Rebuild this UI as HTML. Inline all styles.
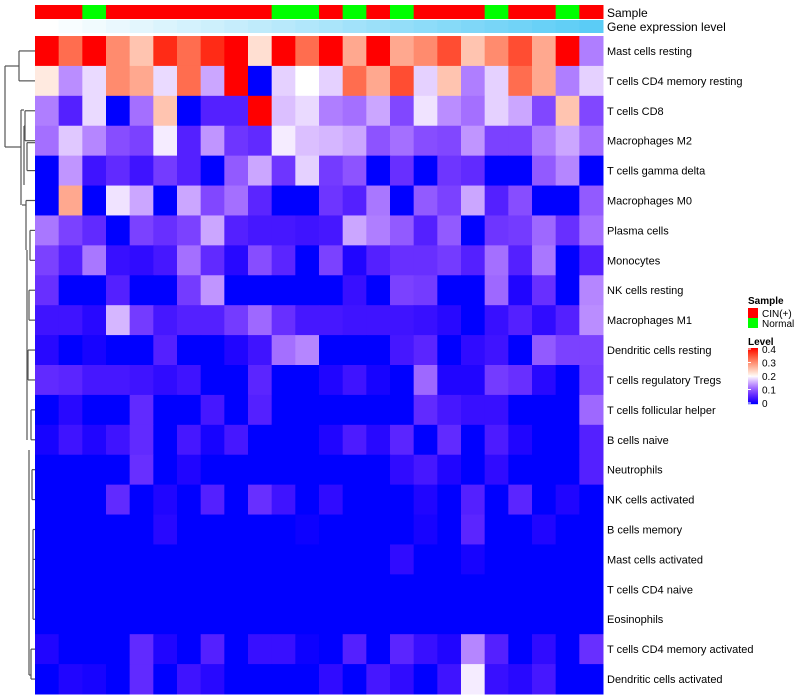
<!DOCTYPE html>
<html><head><meta charset="utf-8"><style>
body{margin:0;background:#fff;width:800px;height:700px;overflow:hidden;font-family:"Liberation Sans",sans-serif}
svg{display:block}
</style></head><body>
<svg id="chart" width="800" height="700"></svg>
<script>
const rowLabels=["Mast cells resting","T cells CD4 memory resting","T cells CD8","Macrophages M2","T cells gamma delta","Macrophages M0","Plasma cells","Monocytes","NK cells resting","Macrophages M1","Dendritic cells resting","T cells regulatory  Tregs","T cells follicular helper","B cells naive","Neutrophils","NK cells activated","B cells memory","Mast cells activated","T cells CD4 naive","Eosinophils","T cells CD4 memory activated","Dendritic cells activated"];
const sampleGroups=["CIN(+)","CIN(+)","Normal","CIN(+)","CIN(+)","CIN(+)","CIN(+)","CIN(+)","CIN(+)","CIN(+)","Normal","Normal","CIN(+)","Normal","CIN(+)","Normal","CIN(+)","CIN(+)","CIN(+)","Normal","CIN(+)","CIN(+)","Normal","CIN(+)"];
const geneLevel=[0,0.04,0.08,0.12,0.16,0.2,0.24,0.28,0.32,0.36,0.4,0.44,0.48,0.52,0.56,0.6,0.64,0.68,0.72,0.76,0.8,0.84,0.88,0.92];
// values in units of 0.05 (level = unit*0.05)
const r0=[8,6.5,8,6,5,7.5,6.5,7.5,8,4.5,8,6.5,8,5.5,8,5.5,6,7,5,6,7,5.5,8,2.5];
const r1=[4.3,2.7,3.6,6,5.5,3.6,6.5,3,8,0,3.5,4,3.5,6.5,5.5,7,3.5,5,2.5,3.5,6.5,5.5,2.5,3.5];
const r2=[2.5,1,3.6,0,2.3,5,0,1,1,8,3.3,3.6,2.5,2.3,3,1.7,3.7,2.7,2.3,3.5,3,1.7,5,1.7];
const r3=[2.3,3.4,2.6,1.8,1.6,3.8,1,2.8,1.4,1.2,3.8,3.3,3.2,3,1.9,2.3,1.8,1.7,2.8,1.6,1.6,2.5,3,2.3];
const r4=[0,2.8,0.7,1.2,0.7,1.5,1,0,2,3,1.4,3.5,1.5,1.9,0,1.3,0,1.4,1.2,0,0,2,2.6,0];
const r5=[0,5.5,0,3.7,3,0,3,1.7,2.3,1.1,0,0,1.4,1,2.4,0,2,1.6,3,1,1.8,0,0,2];
const r6=[2.4,1.6,1.2,0,1.6,1.3,1.6,3,1,0.8,0.8,0.7,0.8,3,2.5,2,1,2,0,1.4,1.5,2.2,1.3,2.3];
const r7=[1.6,1,2.4,0.6,0.5,0.8,2.3,1.2,0.4,1.8,1.1,0,1.6,0.3,1,1.3,1.3,1.5,1,2.3,1,2.4,0,1];
const r8=[1.3,0,0,1,0,0,1.5,2.8,0,0,0,0,0,0.6,0,1.6,1.5,0,0,2.2,0.3,1.3,0,2.6];
const r9=[0.7,0.7,0.4,3.2,1.5,0.8,1,1,1.5,2.2,1.3,0.8,0.8,0.7,0.7,0.7,0.6,0.4,0,0.6,1,0.5,1,2.7];
const r10=[0.4,0,0.2,0,0,1,0,0,0.3,0.7,2.3,2.6,0,0,0,0.8,1.1,0,0.5,0.7,0,2,1.6,1.6];
const r11=[1.2,1.1,0.8,0.8,0.7,0.5,0.7,0,0,1.1,0,0,0.3,0.7,0.2,0,2.2,0.3,0.3,1.5,1.3,0.4,0,1.5];
const r12=[0,0.4,0,0,1.2,0,0,0.8,0,1,0,0,0,0,0,0,1.2,0.8,0.6,0.6,0,0,0,2.2];
const r13=[0.2,0.7,0.3,0.7,1.2,0,0.8,0.2,0.8,0,0,0,0.3,0.9,0.4,1.1,0,1.2,0,0.9,0.3,0,0,1];
const r14=[0,0,0,0,1.3,0,0.3,0,0,0,0,0,0,0,0,0.5,0.8,0.3,0,0.5,0,0,0,1];
const r15=[0,0,0,1.2,0,0.3,0,1,0,1.3,0.7,0,0.5,0,0,0,0.3,0,1,0,1.1,0,0.3,0];
const r16=[0,0,0,0,0,0.4,0,0,0,0,0,0.1,0,0,0,0,0.2,0,1.1,0,0,0.3,0,0];
const r17=[0,0,0,0,0,0,0,0,0,0,0,0,0,0,0,0.5,0,0,0.2,0,0,0,0,0];
const r18=[0,0,0,0,0,0,0,0,0,0,0,0,0,0,0,0,0,0,0,0,0,0,0,0];
const r19=[0,0,0,0,0,0,0,0,0,0,0,0,0,0,0,0,0,0,0,0,0,0,0,0];
const r20=[0.3,0,0,0,1.2,0.3,0,1,0,0.6,0.6,0.1,0,1,0,1.1,0.6,0.3,2.6,1,0,0.5,0,1.3];
const r21=[0,0.3,0.2,0,1.2,0,0.7,0.4,0,0,0,0,0.5,0,0.8,0.5,0,0.7,3.8,0.6,0.4,0.8,0,0];
const rows=[r0,r1,r2,r3,r4,r5,r6,r7,r8,r9,r10,r11,r12,r13,r14,r15,r16,r17,r18,r19,r20,r21];

const NS="http://www.w3.org/2000/svg";
const svg=document.getElementById('chart');
const X0=35,X1=603,Y0=36,Y1=694;
const nC=24,nR=rows.length;
const cw=(X1-X0)/nC,rh=(Y1-Y0)/nR;
const xPos=c=>X0+c*cw;
const yPos=r=>Y0+r*rh;
function el(t,a){const e=document.createElementNS(NS,t);for(const k in a)e.setAttribute(k,a[k]);svg.appendChild(e);return e;}
function color(u){const v=Math.max(0,Math.min(0.4,u*0.05));
 if(v<=0.2){const s=v/0.2;return `rgb(${Math.round(255*Math.pow(s,0.8))},${Math.round(255*Math.pow(s,1.5))},255)`;}
 const s=(v-0.2)/0.2;return `rgb(255,${Math.round(250*Math.pow(1-s,0.85))},${Math.round(245*Math.pow(1-s,1.15))})`;}
function geneColor(t){const r=Math.round(255-(255-77)*t),g=Math.round(255-(255-200)*t),b=Math.round(255-(255-245)*t);return `rgb(${r},${g},${b})`;}

// annotation bars
sampleGroups.forEach((s,c)=>{
 const e=el('rect',{x:xPos(c),y:5,width:cw+0.5,height:14,fill:s==="Normal"?"#00FF00":"#FF0000"});
 
 
});
geneLevel.forEach((g,c)=>{
 const e=el('rect',{x:xPos(c),y:20,width:cw+0.5,height:13,fill:geneColor(g)});
 
 
});
let t=el('text',{x:607,y:17,'font-size':12,fill:'#000'});t.textContent='Sample';

t=el('text',{x:607,y:31,'font-size':12,fill:'#000'});t.textContent='Gene expression level';


// cells
rows.forEach((row,r)=>{
 row.forEach((v,c)=>{
  const e=el('rect',{x:xPos(c),y:yPos(r),width:cw+0.5,height:rh+0.5,fill:color(v)});
  
  
 });
 const l=el('text',{x:607,y:yPos(r)+rh/2+4,'font-size':11,fill:'#000'});
 l.textContent=rowLabels[r];
 
 
});

// dendrogram (approximate structure)
const cy=r=>yPos(r)+rh/2;
const segs=[
 [19,cy(0),35,cy(0)],[19,cy(1),35,cy(1)],[19,cy(0),19,cy(1)],
 [5,66,19,66],[5,66,5,147],[5,147,21,147],
 [25,cy(2),35,cy(2)],[25,cy(3),35,cy(3)],[25,cy(2),25,cy(3)],
 [27,cy(3)+2,35,cy(3)+2],[27,cy(4),35,cy(4)],[27,cy(3)+2,27,cy(4)],
 [24,126,25,126],[24,126,24,185],[21,110,24,110],[21,110,21,205],
 [26,cy(5),35,cy(5)],[26,cy(5),26,250],[22,205,26,205],
 [30,cy(6),35,cy(6)],[30,cy(7),35,cy(7)],[30,cy(6),30,cy(7)],
 [29,cy(8),35,cy(8)],[29,cy(9),35,cy(9)],[29,cy(8),29,cy(9)],
 [28,cy(10),35,cy(10)],[28,cy(11),35,cy(11)],[28,cy(10),28,cy(11)],
 [27,250,27,440],[31,cy(12),35,cy(12)],[31,cy(13),35,cy(13)],[31,cy(12),31,cy(13)],
 [32,cy(14),35,cy(14)],[32,cy(15),35,cy(15)],[32,cy(14),32,cy(15)],
 [33,cy(16),35,cy(16)],[33,cy(17),35,cy(17)],[33,cy(16),33,cy(19)],[33,cy(18),35,cy(18)],[33,cy(19),35,cy(19)],
 [31,cy(20),35,cy(20)],[31,cy(21),35,cy(21)],[31,cy(20),31,cy(21)],
 [29,450,29,675],[29,675,31,675]
];
segs.forEach(s=>{
 const e=el('line',{x1:s[0],y1:s[1],x2:s[2],y2:s[3],stroke:'#555','stroke-width':1.2});
 
 
});

// legend
t=el('text',{x:748,y:304,'font-size':10,'font-weight':'bold'});t.textContent='Sample';

[["CIN(+)","#FF0000"],["Normal","#00FF00"]].forEach((d,i)=>{
 const r=el('rect',{x:748,y:308+i*10,width:10,height:10,fill:d[1]});
 
 const tx=el('text',{x:762,y:317+i*10,'font-size':10});tx.textContent=d[0];
 
});
t=el('text',{x:748,y:345,'font-size':10,'font-weight':'bold'});t.textContent='Level';

for(let i=0;i<56;i++){
 const u=8*(1-i/55);
 const r=el('rect',{x:748,y:348+i,width:10,height:1.2,fill:color(u)});
 
}
const levelTicks=["0.4","0.3","0.2","0.1","0"];
levelTicks.forEach((s,i)=>{
 const y=349+i*13.5;
 const tx=el('text',{x:762,y:y+4,'font-size':10});tx.textContent=s;
 
 const ln=el('line',{x1:748,x2:751,y1:y,y2:y,stroke:'#fff','stroke-width':1});
 
});
</script>
</body></html>
